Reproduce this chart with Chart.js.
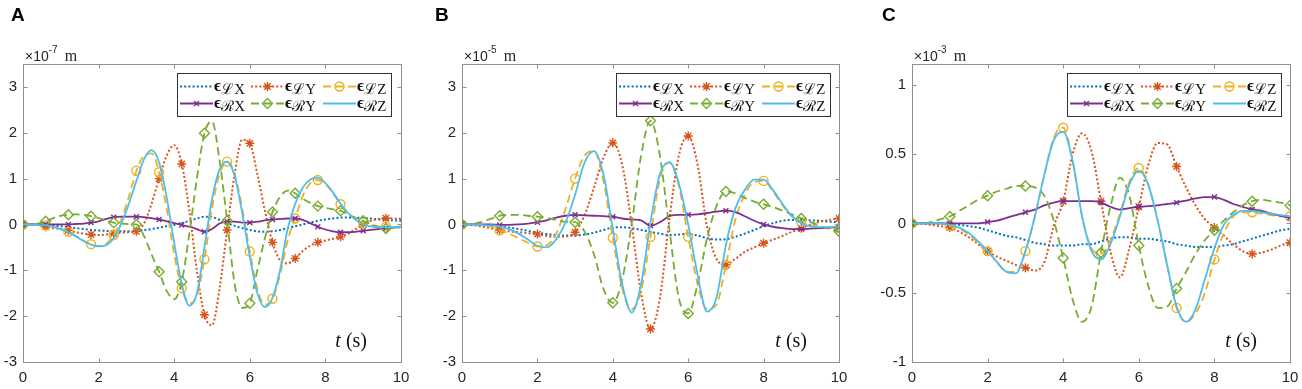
<!DOCTYPE html>
<html>
<head>
<meta charset="utf-8">
<script src="https://cdn.jsdelivr.net/npm/chart.js@4.4.1/dist/chart.umd.min.js"></script>
<style>
  html, body { margin: 0; padding: 0; background: #fff; }
  #wrap { position: relative; width: 1302px; height: 389px; overflow: hidden; }
  canvas { position: absolute; top: 0; }
</style>
</head>
<body>
<div id="wrap">
  <canvas id="panelA" width="430" height="389" style="left:0px"></canvas>
  <canvas id="panelB" width="430" height="389" style="left:430px"></canvas>
  <canvas id="panelC" width="442" height="389" style="left:860px"></canvas>
</div>
<script>
// time samples (s)
const timeA = [0,0.2,0.4,0.6,0.8,1,1.2,1.4,1.6,1.8,2,2.2,2.4,2.6,2.8,3,3.2,3.4,3.6,3.8,4,4.2,4.4,4.6,4.8,5,
  5.2,5.4,5.6,5.8,6,6.2,6.4,6.6,6.8,7,7.2,7.4,7.6,7.8,8,8.2,8.4,8.6,8.8,9,9.2,9.4,9.6,9.8,10];
const timeBC = [0,0.25,0.5,0.75,1,1.25,1.5,1.75,2,2.25,2.5,2.75,3,3.25,3.5,3.75,4,4.25,4.5,4.75,5,
  5.25,5.5,5.75,6,6.25,6.5,6.75,7,7.25,7.5,7.75,8,8.25,8.5,8.75,9,9.25,9.5,9.75,10];

const xTicks = [0, 2, 4, 6, 8, 10];
const yTicksAB = [-3, -2, -1, 0, 1, 2, 3];
const yTicksC = [-1, -0.5, 0, 0.5, 1];

const seriesNames = ['ϵℒX', 'ϵℒY', 'ϵℒZ', 'ϵℛX', 'ϵℛY', 'ϵℛZ'];

// panel A (x1e-7 m)
const aLX = [0,0,0,-0.01,-0.02,-0.04,-0.06,-0.08,-0.1,-0.12,-0.13,-0.14,-0.15,-0.15,-0.15,-0.14,-0.12,-0.1,-0.07,-0.04,-0.01,
  0.03,0.08,0.13,0.17,0.16,0.1,0.03,-0.03,-0.08,-0.12,-0.15,-0.16,-0.15,-0.12,-0.08,-0.04,0,0.04,0.08,0.11,
  0.13,0.15,0.15,0.15,0.14,0.13,0.11,0.1,0.09,0.08];
const aLY = [0,0,-0.02,-0.05,-0.08,-0.1,-0.13,-0.17,-0.2,-0.22,-0.23,-0.22,-0.2,-0.18,-0.17,-0.15,0.02,0.45,1.0,1.5,1.73,
  1.32,0.3,-1.0,-1.97,-2.2,-1.4,-0.12,1.1,1.85,1.77,1.1,0.3,-0.39,-0.78,-0.85,-0.74,-0.58,-0.46,-0.39,-0.35,
  -0.31,-0.27,-0.2,-0.1,0,0.08,0.12,0.135,0.13,0.12];
const aLZ = [0,0,-0.01,-0.02,-0.05,-0.1,-0.16,-0.25,-0.35,-0.43,-0.47,-0.42,-0.23,0.12,0.6,1.17,1.5,1.55,1.14,0.35,-0.65,
  -1.39,-1.72,-1.55,-0.76,0.35,1.1,1.37,1.1,0.35,-0.59,-1.4,-1.75,-1.62,-1.1,-0.35,0.13,0.62,0.9,0.97,0.88,
  0.68,0.44,0.25,0.12,0.04,-0.01,-0.04,-0.05,-0.05,-0.05];
const aRX = [0,0,0,0,0,0,0,0.01,0.02,0.04,0.07,0.12,0.16,0.17,0.17,0.17,0.16,0.14,0.11,0.07,0.03,
  -0.01,-0.05,-0.1,-0.16,-0.1,0.02,0.06,0.06,0.04,0.04,0.06,0.09,0.11,0.12,0.13,0.13,0.1,0.03,-0.05,-0.11,
  -0.15,-0.17,-0.17,-0.16,-0.14,-0.12,-0.1,-0.08,-0.07,-0.06];
const aRY = [0,0,0.02,0.07,0.14,0.19,0.21,0.22,0.21,0.18,0.14,0.09,0.04,0.02,0.01,0.0,-0.25,-0.65,-1.03,-1.45,-1.63,
  -1.25,-0.2,1.0,1.99,2.25,1.4,0.08,-1.3,-1.82,-1.72,-1.0,-0.3,0.27,0.6,0.74,0.68,0.56,0.47,0.4,0.36,
  0.33,0.3,0.22,0.14,0.08,0.01,-0.05,-0.09,-0.08,-0.06];
const aRZ = [0,0,-0.01,-0.02,-0.05,-0.1,-0.17,-0.26,-0.36,-0.44,-0.48,-0.45,-0.3,0.02,0.45,0.95,1.42,1.62,1.35,0.6,-0.4,
  -1.3,-1.77,-1.5,-0.5,0.55,1.2,1.37,1.05,0.25,-0.7,-1.5,-1.8,-1.6,-1.0,-0.1,0.45,0.8,0.98,1.02,0.9,
  0.7,0.45,0.25,0.1,0,-0.04,-0.06,-0.06,-0.06,-0.05];

// panel B (x1e-5 m)
const bLX = [0,0,-0.01,-0.02,-0.04,-0.07,-0.1,-0.14,-0.18,-0.21,-0.23,-0.24,-0.24,-0.22,-0.18,-0.12,-0.07,-0.06,-0.08,-0.12,-0.16,
  -0.2,-0.23,-0.22,-0.2,-0.24,-0.3,-0.33,-0.32,-0.27,-0.2,-0.12,-0.04,0.03,0.08,0.1,0.1,0.09,0.08,0.06,0.05];
const bLY = [0,-0.01,-0.04,-0.08,-0.12,-0.15,-0.17,-0.19,-0.21,-0.25,-0.27,-0.26,-0.17,0.2,0.8,1.45,1.78,1.3,0,-1.5,-2.28,
  -1.6,0.1,1.5,1.93,1.3,-0.05,-0.75,-0.88,-0.75,-0.6,-0.5,-0.41,-0.33,-0.25,-0.16,-0.08,0,0.06,0.1,0.13];
const bLZ = [0,0,-0.01,-0.05,-0.13,-0.2,-0.3,-0.4,-0.48,-0.45,-0.2,0.35,1.0,1.5,1.6,0.95,-0.29,-1.4,-1.85,-1.45,-0.27,
  1.0,1.35,0.85,-0.27,-1.3,-1.85,-1.75,-0.88,0.1,0.65,0.92,0.95,0.72,0.42,0.18,0.05,-0.02,-0.05,-0.07,-0.08];
const bRX = [0,0,0,0,-0.01,-0.01,0,0.02,0.05,0.09,0.15,0.19,0.21,0.2,0.19,0.18,0.17,0.13,0.11,0.09,-0.03,
  0.05,0.18,0.21,0.21,0.22,0.25,0.28,0.3,0.27,0.18,0.08,0,-0.05,-0.08,-0.1,-0.1,-0.09,-0.08,-0.07,-0.06];
const bRY = [0,0.01,0.05,0.12,0.19,0.21,0.21,0.19,0.17,0.14,0.1,0.06,0.05,-0.15,-0.65,-1.4,-1.71,-1.2,0,1.5,2.26,
  1.5,-0.1,-1.6,-1.94,-1.3,-0.3,0.4,0.72,0.68,0.58,0.5,0.44,0.38,0.3,0.22,0.13,0.05,-0.03,-0.1,-0.15];
const bRZ = [0,0,-0.01,-0.02,-0.04,-0.1,-0.2,-0.33,-0.47,-0.5,-0.32,0.05,0.65,1.35,1.6,1.1,-0.1,-1.3,-1.92,-1.3,0.05,
  1.1,1.36,0.9,0,-1.1,-1.9,-1.6,-0.45,0.35,0.75,0.98,0.98,0.75,0.45,0.18,0.02,-0.04,-0.06,-0.06,-0.05];

// panel C (x1e-3 m)
const cLX = [0,0,0,0,0,-0.01,-0.02,-0.03,-0.05,-0.07,-0.09,-0.1,-0.12,-0.14,-0.15,-0.16,-0.16,-0.16,-0.15,-0.15,-0.13,
  -0.11,-0.1,-0.1,-0.11,-0.11,-0.12,-0.13,-0.15,-0.16,-0.17,-0.17,-0.17,-0.16,-0.15,-0.13,-0.11,-0.09,-0.07,-0.05,-0.04];
const cLY = [0,0,-0.01,-0.02,-0.03,-0.06,-0.1,-0.15,-0.2,-0.24,-0.27,-0.3,-0.32,-0.34,-0.28,-0.02,0.16,0.5,0.65,0.52,0.16,
  -0.2,-0.39,-0.18,0.12,0.42,0.58,0.57,0.41,0.26,0.13,0.03,-0.03,-0.09,-0.15,-0.2,-0.22,-0.21,-0.19,-0.16,-0.14];
const cLZ = [0,0,0,0,-0.02,-0.04,-0.08,-0.14,-0.2,-0.28,-0.35,-0.35,-0.2,0.05,0.35,0.62,0.69,0.45,0.05,-0.18,-0.22,
  -0.12,0.07,0.3,0.4,0.28,0.02,-0.3,-0.61,-0.71,-0.65,-0.5,-0.26,-0.07,0.05,0.08,0.08,0.07,0.06,0.05,0.05];
const cRX = [0,0,0,0,0,0,0,0,0.01,0.02,0.04,0.06,0.08,0.1,0.13,0.15,0.16,0.16,0.16,0.16,0.15,
  0.12,0.1,0.11,0.12,0.125,0.13,0.14,0.15,0.165,0.18,0.19,0.19,0.17,0.14,0.12,0.1,0.09,0.07,0.055,0.04];
const cRY = [0,0,0.01,0.03,0.05,0.09,0.13,0.17,0.2,0.23,0.25,0.27,0.27,0.26,0.2,0.02,-0.25,-0.55,-0.71,-0.6,-0.21,
  0.12,0.33,0.2,-0.16,-0.45,-0.61,-0.6,-0.47,-0.35,-0.22,-0.12,-0.05,0.02,0.08,0.13,0.16,0.17,0.16,0.15,0.13];
const cRZ = [0,0,0,0,-0.01,-0.03,-0.07,-0.13,-0.2,-0.28,-0.35,-0.36,-0.2,0.05,0.35,0.6,0.66,0.45,0.05,-0.2,-0.26,
  -0.15,0.05,0.28,0.38,0.28,0.02,-0.3,-0.6,-0.71,-0.62,-0.4,-0.18,-0.01,0.06,0.09,0.09,0.08,0.07,0.06,0.05];

// line / marker look of each series (MATLAB default colours)
const styles = [
  { color: '#0072BD', width: 2, dash: [2, 2.2], point: null },
  { color: '#D95319', width: 2, dash: [2, 2.2], point: 'star', r: 4.5 },
  { color: '#EDB120', width: 1.8, dash: [8, 4.5], point: 'circle', r: 4.5 },
  { color: '#7E2F8E', width: 1.8, dash: [], point: 'crossRot', r: 3.5 },
  { color: '#77AC30', width: 1.8, dash: [8, 4.5], point: 'rectRot', r: 5 },
  { color: '#4DBEEE', width: 1.8, dash: [], point: null },
];

function buildDatasets(time, series, every) {
  return series.map((vals, k) => {
    const s = styles[k];
    return {
      label: seriesNames[k],
      data: time.map((t, i) => ({ x: t, y: vals[i] })),
      borderColor: s.color,
      borderWidth: s.width,
      borderDash: s.dash,
      fill: false,
      cubicInterpolationMode: 'monotone',
      pointStyle: s.point || 'circle',
      pointRadius: c => (s.point && c.dataIndex % every === 0) ? s.r : 0,
      pointHoverRadius: 0,
      pointBorderColor: s.color,
      pointBackgroundColor: 'rgba(0,0,0,0)',
      pointBorderWidth: 1.4,
      order: 6 - k,
    };
  });
}

const serif = '"Liberation Serif", "DejaVu Serif", serif';
const sans = '"Liberation Sans", Arial, sans-serif';

// box, inward ticks, legend, and the small labels around each axes
const panelDecor = {
  id: 'panelDecor',
  beforeDatasetsDraw(chart, args, o) {
    const { ctx, chartArea: a, scales: { x, y } } = chart;
    ctx.save();
    ctx.strokeStyle = '#8f8f8f';
    ctx.lineWidth = 1;
    const L = Math.round(a.left) + 0.5, R = Math.round(a.right) + 0.5;
    const T = Math.round(a.top) + 0.5, B = Math.round(a.bottom) + 0.5;
    ctx.strokeRect(L, T, R - L, B - T);
    ctx.beginPath();
    xTicks.forEach(v => {
      const px = Math.round(x.getPixelForValue(v)) + 0.5;
      ctx.moveTo(px, B); ctx.lineTo(px, B - 4);
      ctx.moveTo(px, T); ctx.lineTo(px, T + 4);
    });
    o.yTicks.forEach(v => {
      const py = Math.round(y.getPixelForValue(v)) + 0.5;
      ctx.moveTo(L, py); ctx.lineTo(L + 4, py);
      ctx.moveTo(R, py); ctx.lineTo(R - 4, py);
    });
    ctx.stroke();
    ctx.restore();
  },
  afterDatasetsDraw(chart, args, o) {
    const { ctx, chartArea: a } = chart;
    const w = 214, h = 43;
    const left = Math.round(a.right - o.legendRight - w), top = Math.round(a.top + 9);
    ctx.save();
    ctx.fillStyle = '#fff';
    ctx.fillRect(left, top, w, h);
    ctx.strokeStyle = '#333';
    ctx.lineWidth = 1;
    ctx.strokeRect(left + 0.5, top + 0.5, w, h);
    chart.data.datasets.forEach((ds, k) => {
      const s = styles[k];
      const x0 = left + [3, 74, 146][k % 3];
      const yy = top + [13, 30][Math.floor(k / 3)] + 0.5;
      ctx.save();
      ctx.strokeStyle = s.color;
      ctx.lineWidth = s.width;
      ctx.setLineDash(s.dash);
      ctx.beginPath();
      ctx.moveTo(x0, yy); ctx.lineTo(x0 + 33, yy);
      ctx.stroke();
      ctx.setLineDash([]);
      if (s.point) {
        ctx.fillStyle = 'rgba(0,0,0,0)';
        ctx.lineWidth = 1.4;
        Chart.helpers.drawPoint(ctx, { pointStyle: s.point, radius: s.r, rotation: 0, borderWidth: 1.4 }, x0 + 16.5, yy);
      }
      ctx.restore();
      ctx.fillStyle = '#111';
      ctx.textBaseline = 'alphabetic';
      ctx.font = 'bold 17px ' + serif;
      ctx.fillText(seriesNames[k].charAt(0), x0 + 34, yy + 4);
      const ew = ctx.measureText(seriesNames[k].charAt(0)).width;
      ctx.font = '15px ' + serif;
      ctx.fillText(seriesNames[k].slice(1), x0 + 34 + ew, yy + 7);
    });
    ctx.restore();
  },
  afterDraw(chart, args, o) {
    const { ctx, chartArea: a } = chart;
    ctx.save();
    ctx.fillStyle = '#000';
    ctx.textBaseline = 'alphabetic';
    // panel letter
    ctx.font = 'bold 19px ' + sans;
    ctx.fillText(o.letter, o.letterX, 21);
    // exponent label
    ctx.fillStyle = '#262626';
    ctx.font = '14px ' + sans;
    const ex = a.left + 2;
    ctx.fillText('×10', ex, 61);
    let w = ctx.measureText('×10').width;
    ctx.font = '10px ' + sans;
    ctx.fillText(o.exp, ex + w, 53);
    w += ctx.measureText(o.exp).width;
    ctx.font = '16px ' + serif;
    ctx.fillText('m', ex + w + 7, 61);
    // t (s)
    ctx.fillStyle = '#111';
    ctx.font = '20px ' + serif;
    const tail = ' (s)';
    const tw = ctx.measureText(tail).width;
    ctx.font = 'italic 20px ' + serif;
    const iw = ctx.measureText('t').width;
    const tx = a.right - o.tRight - tw - iw;
    ctx.fillText('t', tx, a.bottom - 15);
    ctx.font = '20px ' + serif;
    ctx.fillText(tail, tx + iw, a.bottom - 15);
    ctx.restore();
  }
};

function makePanel(id, time, series, every, yMin, yMax, yTicks, yWidth, rightPad, deco) {
  return new Chart(document.getElementById(id), {
    type: 'line',
    data: { datasets: buildDatasets(time, series, every) },
    plugins: [panelDecor],
    options: {
      responsive: false,
      animation: false,
      devicePixelRatio: 1,
      events: [],
      layout: { padding: { top: 64, right: rightPad, bottom: 0, left: 0 } },
      scales: {
        x: {
          type: 'linear', min: 0, max: 10,
          afterBuildTicks: s => { s.ticks = xTicks.map(v => ({ value: v })); },
          afterFit: s => { s.height = 27; s.paddingLeft = 0; s.paddingRight = 0; },
          grid: { display: false, drawTicks: false },
          border: { display: false },
          ticks: { color: '#262626', font: { family: sans, size: 15 }, padding: 7, maxRotation: 0, autoSkip: false,
                   callback: v => String(v) },
        },
        y: {
          type: 'linear', min: yMin, max: yMax,
          afterBuildTicks: s => { s.ticks = yTicks.map(v => ({ value: v })); },
          afterFit: s => { s.width = yWidth; },
          grid: { display: false, drawTicks: false },
          border: { display: false },
          ticks: { color: '#262626', font: { family: sans, size: 15 }, padding: 6, autoSkip: false,
                   callback: v => String(v) },
        },
      },
      plugins: {
        legend: { display: false },
        tooltip: { enabled: false },
        panelDecor: Object.assign({ yTicks }, deco),
      },
    },
  });
}

makePanel('panelA', timeA, [aLX, aLY, aLZ, aRX, aRY, aRZ], 3, -3, 3.5, yTicksAB, 23, 29,
  { letter: 'A', letterX: 11, exp: '-7', legendRight: 10, tRight: 34 });
makePanel('panelB', timeBC, [bLX, bLY, bLZ, bRX, bRY, bRZ], 4, -3, 3.5, yTicksAB, 32, 21,
  { letter: 'B', letterX: 5, exp: '-5', legendRight: 9, tRight: 32 });
makePanel('panelC', timeBC, [cLX, cLY, cLZ, cRX, cRY, cRZ], 4, -1, 1.15, yTicksC, 52, 12,
  { letter: 'C', letterX: 22, exp: '-3', legendRight: 9, tRight: 33 });
</script>
</body>
</html>
